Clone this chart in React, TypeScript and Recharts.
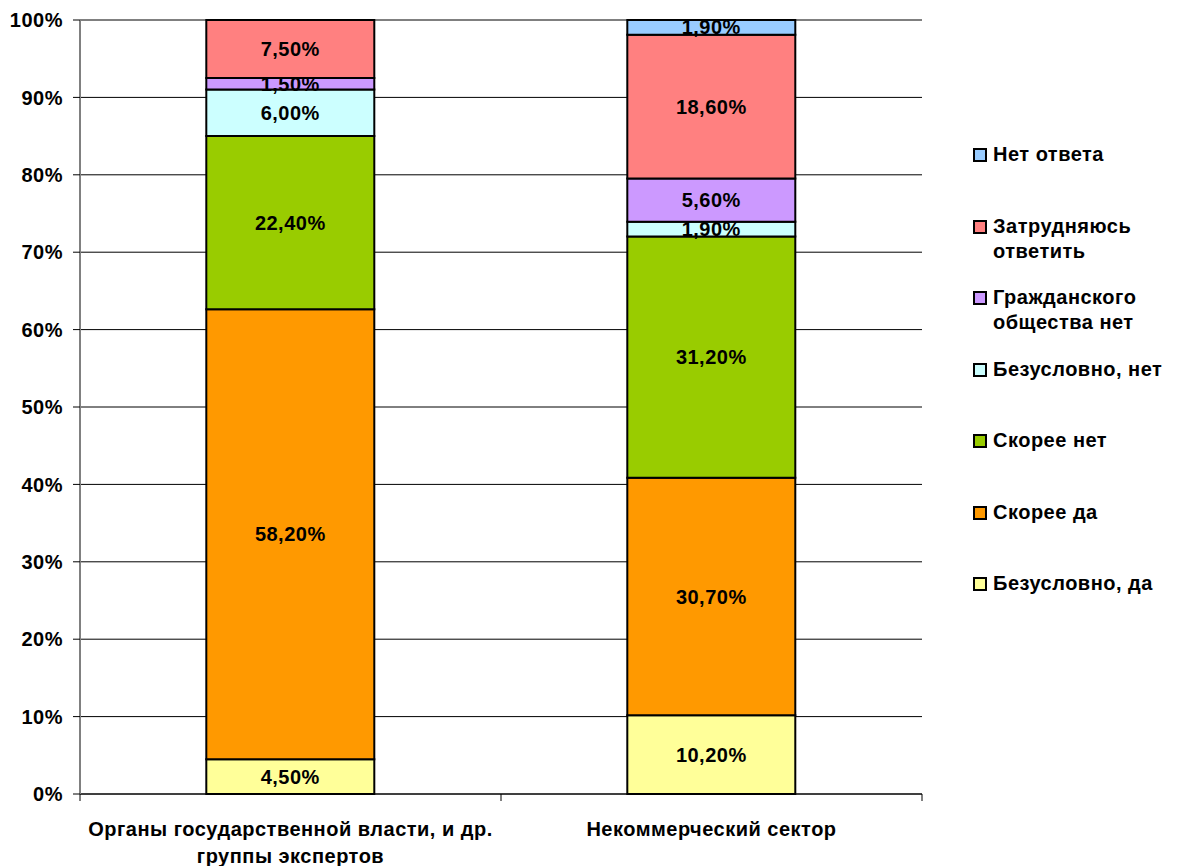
import React from 'react';
import { BarChart, Bar, XAxis, YAxis, CartesianGrid, LabelList } from 'recharts';

const categories = ['Органы государственной власти, и др.\nгруппы экспертов', 'Некоммерческий сектор'];
const seriesKeys = ['bd', 'sd', 'sn', 'bn', 'gn', 'zo', 'no'];
const seriesNames = [
  'Безусловно, да',
  'Скорее да',
  'Скорее нет',
  'Безусловно, нет',
  'Гражданского общества нет',
  'Затрудняюсь ответить',
  'Нет ответа',
];
const seriesColors = ['#FFFF99', '#FF9900', '#99CC00', '#CCFFFF', '#CC99FF', '#FF8080', '#99CCFF'];
const bezuslovnoDa = [4.5, 10.2];
const skoreeDa = [58.2, 30.7];
const skoreeNet = [22.4, 31.2];
const bezuslovnoNet = [6.0, 1.9];
const grazhdanskogoNet = [1.5, 5.6];
const zatrudnyayus = [7.5, 18.6];
const netOtveta = [0, 1.9];
const yTicks = [0, 0.1, 0.2, 0.3, 0.4, 0.5, 0.6, 0.7, 0.8, 0.9, 1];

const seriesValues = [bezuslovnoDa, skoreeDa, skoreeNet, bezuslovnoNet, grazhdanskogoNet, zatrudnyayus, netOtveta];

const data = categories.map((c, i) => {
  const row: any = { name: c };
  seriesKeys.forEach((k, j) => {
    row[k] = seriesValues[j][i];
  });
  return row;
});

const FONT = '"Liberation Sans", Arial, sans-serif';
const LS = 0.5;

const fmt = (v: any) => (v ? Number(v).toFixed(2).replace('.', ',') + '%' : '');

const XTick = (props: any) => {
  const { x, y, payload, index, visibleTicksCount } = props;
  const off = payload && payload.offset ? payload.offset : 210.5;
  const lines = String(payload.value).split('\n');
  const isLast = index === (visibleTicksCount ?? categories.length) - 1;
  return (
    <g>
      <line x1={x - off} x2={x - off} y1={y - 8} y2={y - 1} stroke="#000" strokeWidth={1} />
      {isLast && <line x1={x + off} x2={x + off} y1={y - 8} y2={y - 1} stroke="#000" strokeWidth={1} />}
      <text
        x={x}
        y={y + 34}
        textAnchor="middle"
        fontFamily={FONT}
        fontWeight="bold"
        fontSize={20}
        letterSpacing={LS}
        fill="#000"
      >
        {lines.map((l, i) => (
          <tspan key={i} x={x} dy={i === 0 ? 0 : 27}>
            {l}
          </tspan>
        ))}
      </text>
    </g>
  );
};

const LegendBox = () => {
  const order = seriesNames.map((n, i) => ({ n, c: seriesColors[i] })).reverse();
  return (
    <div
      style={{
        position: 'absolute',
        left: 973,
        top: 142,
        width: 206,
        fontFamily: FONT,
        fontWeight: 'bold',
        fontSize: 20,
        letterSpacing: LS,
        color: '#000',
      }}
    >
      {order.map((it, i) => (
        <div key={i} style={{ display: 'flex', alignItems: 'flex-start', height: 71.5 }}>
          <div
            style={{
              width: 10,
              height: 10,
              border: '2px solid #000',
              background: it.c,
              marginTop: 6,
              marginRight: 6,
              flexShrink: 0,
            }}
          />
          <div style={{ width: 185, lineHeight: '25px' }}>{it.n}</div>
        </div>
      ))}
    </div>
  );
};

export default function App() {
  return (
    <div style={{ position: 'absolute', left: 0, top: 0, width: 1179, height: 866, background: '#fff' }}>
      <BarChart
        width={1179}
        height={866}
        data={data}
        stackOffset="expand"
        barCategoryGap="30%"
        margin={{ top: 20, right: 257, bottom: 0, left: 0 }}
      >
        <CartesianGrid horizontal vertical={false} stroke="#000" strokeWidth={1} />
        <XAxis
          dataKey="name"
          height={72}
          axisLine={{ stroke: '#000', strokeWidth: 1 }}
          tickLine={false}
          tick={<XTick />}
          interval={0}
        />
        <YAxis
          width={80}
          domain={[0, 1]}
          ticks={yTicks}
          tickFormatter={(v: number) => `${Math.round(v * 100)}%`}
          axisLine={{ stroke: '#808080', strokeWidth: 2 }}
          tickLine={{ stroke: '#000' }}
          tickSize={7}
          tickMargin={10}
          tick={{ fontFamily: FONT, fontWeight: 'bold', fontSize: 20, fill: '#000', letterSpacing: LS }}
        />
        <YAxis
          yAxisId="r"
          orientation="right"
          width={0}
          domain={[0, 1]}
          tick={false}
          tickLine={false}
          axisLine={{ stroke: '#808080', strokeWidth: 2 }}
        />
        {seriesKeys.map((k, i) => (
          <Bar
            key={k}
            dataKey={k}
            name={seriesNames[i]}
            stackId="a"
            fill={seriesColors[i]}
            stroke="#000"
            strokeWidth={2}
            isAnimationActive={false}
          >
            <LabelList
              dataKey={k}
              position="center"
              formatter={fmt}
              fill="#000"
              fontFamily={FONT}
              fontWeight="bold"
              fontSize={20}
              letterSpacing={LS}
            />
          </Bar>
        ))}
      </BarChart>
      <LegendBox />
    </div>
  );
}
